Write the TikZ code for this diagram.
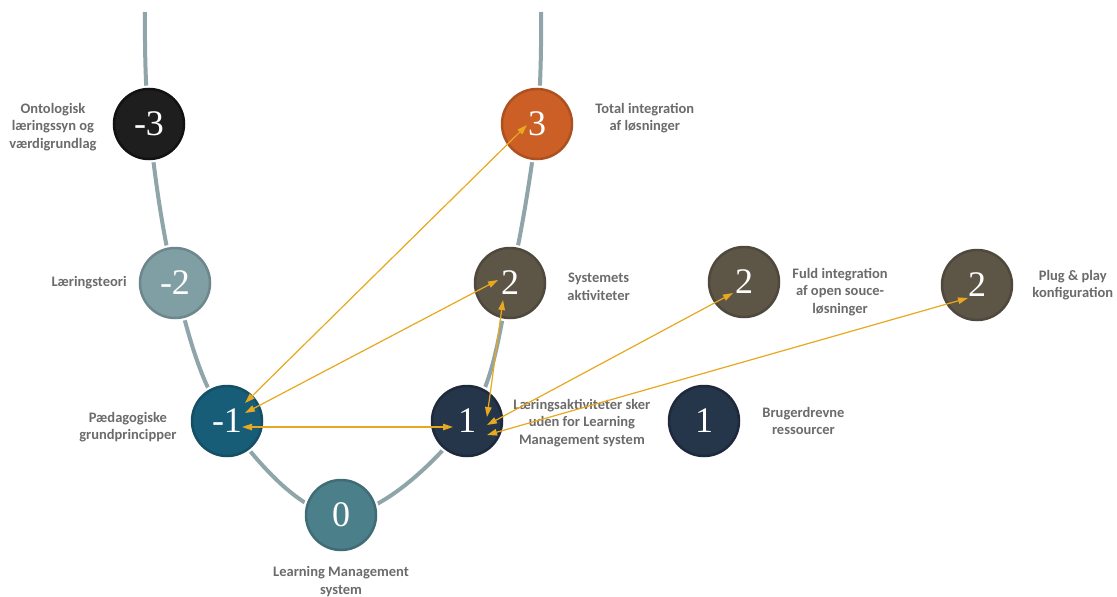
\documentclass[tikz,border=0pt]{standalone}
\usepackage{fontspec}
\setmainfont{Liberation Serif}
\newfontfamily\lblfont{Carlito}
\usetikzlibrary{positioning,arrows.meta,backgrounds}

\definecolor{trackgray}{HTML}{8FA5AA}
\definecolor{labelgray}{HTML}{6B6B6B}
\definecolor{linkgold}{HTML}{E8A820}
\definecolor{lvlmthree}{HTML}{1E1E1E}
\definecolor{lvlmtwo}{HTML}{809FA5}
\definecolor{lvlmone}{HTML}{185D78}
\definecolor{lvlzero}{HTML}{4B7F8A}
\definecolor{lvlone}{HTML}{25354A}
\definecolor{lvltwo}{HTML}{5D5546}
\definecolor{lvlthree}{HTML}{CB5F26}

\begin{document}
\begin{tikzpicture}[x=1pt,y=-1pt,
    levelnode/.style = {circle, minimum size=70pt, inner sep=0pt, text=white,
        font=\fontsize{36}{36}\selectfont, line width=2.5pt,
        preaction={draw=white, line width=7pt}},
    lbl/.style = {align=center, inner sep=0pt, text=labelgray,
        font=\lblfont\bfseries\fontsize{14.5}{17.5}\selectfont},
    link/.style = {<->, draw=linkgold, line width=1.2pt,
        >={Triangle[length=10pt,width=6.5pt]}, fill=linkgold}]
     \useasboundingbox (0,0) rectangle (1117,597);

     \node[levelnode, fill=lvlmthree, draw=lvlmthree!60!black] (m3) at (149,124) {-3};
     \node[levelnode, fill=lvlmtwo, draw=lvlmtwo!85!black] (m2) at (175,283) {-2};
     \node[levelnode, fill=lvlmone, draw=lvlmone!85!black] (m1) at (227,421) {-1};
     \node[levelnode, fill=lvlzero, draw=lvlzero!85!black] (zero) at (341,515) {0};
     \node[levelnode, fill=lvlone, draw=lvlone!80!black] (p1) at (467,421) {1};
     \node[levelnode, fill=lvltwo, draw=lvltwo!85!black] (p2) at (510,283) {2};
     \node[levelnode, fill=lvlthree, draw=lvlthree!85!black] (p3) at (537,124) {3};
     \node[levelnode, fill=lvltwo, draw=lvltwo!85!black] (fuld) at (744,282) {2};
     \node[levelnode, fill=lvltwo, draw=lvltwo!85!black] (plug) at (977,285) {2};
     \node[levelnode, fill=lvlone, draw=lvlone!80!black] (brug) at (704,421) {1};

     \coordinate (topl) at (145,12);
     \coordinate (topr) at (541,12);

     \begin{scope}[on background layer]
     \draw[trackgray, line width=4pt] plot[smooth, tension=0.6] coordinates
         {(topl) (m3) (m2) (m1) (zero) (p1) (p2) (p3) (topr)};
     \end{scope}

     \node[lbl, left=16pt of m3, yshift=-3pt] (ontlbl) {Ontologisk\\læringssyn og\\værdigrundlag};
     \node[lbl, left=12pt of m2] (teorilbl) {Læringsteori};
     \node[lbl, left=14pt of m1, yshift=-6pt] (paedlbl) {Pædagogiske\\grundprincipper};
     \node[lbl, below=15pt of zero] (lmslbl) {Learning Management\\system};
     \node[lbl, right=10pt of p1, yshift=-2pt] (aktlbl) {Læringsaktiviteter sker\\uden for Learning\\Management system};
     \node[lbl, right=21pt of p2, yshift=-4pt] (syslbl) {Systemets\\aktiviteter};
     \node[lbl, right=22pt of p3, yshift=6pt] (totallbl) {Total integration\\af løsninger};
     \node[lbl, right=12pt of fuld, yshift=-10pt] (fuldlbl) {Fuld integration\\af open souce-\\løsninger};
     \node[lbl, right=19pt of plug] (pluglbl) {Plug \& play\\konfiguration};
     \node[lbl, right=22pt of brug] (bruglbl) {Brugerdrevne\\ressourcer};

     \draw[link] ([shift={(18,-18)}]m1.center) -- ([shift={(-10,1)}]p3.center);
     \draw[link] ([shift={(18,-8)}]m1.center) -- ([shift={(-12,-3)}]p2.center);
     \draw[link] ([shift={(15,6)}]m1.center) -- ([shift={(-14,6)}]p1.center);
     \draw[link] ([shift={(-7,17)}]p2.center) -- ([shift={(20,-4)}]p1.center);
     \draw[link] ([shift={(20,4)}]p1.center) -- ([shift={(-11,11)}]fuld.center);
     \draw[link] ([shift={(20,14)}]p1.center) -- ([shift={(-9,13)}]plug.center);
\end{tikzpicture}
\end{document}
